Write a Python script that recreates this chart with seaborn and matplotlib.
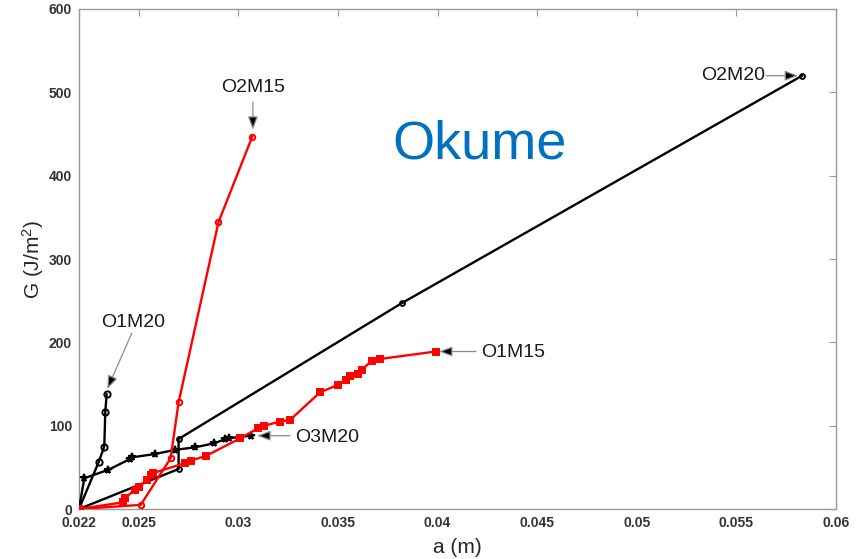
import numpy as np
import pandas as pd
import matplotlib
matplotlib.use('Agg')
import matplotlib.pyplot as plt
import seaborn as sns

# crack length a (m) vs strain energy release rate G (J/m^2) -- Okume specimens
o1m20_a = [0.0220, 0.0230, 0.02327, 0.02332, 0.02339]
o1m20_g = [0, 57, 75, 116, 138]

o2m20_a = [0.0220, 0.0270, 0.0270, 0.0382, 0.0583]
o2m20_g = [0, 48, 84, 247, 520]

o3m20_a = [0.0220, 0.02227, 0.02347, 0.02456, 0.02465, 0.02582, 0.02682,
           0.02782, 0.0288, 0.02935, 0.02953, 0.03063]
o3m20_g = [0, 37, 47, 60, 62, 66, 71, 74, 79, 84, 85, 88]

o1m15_a = [0.0220, 0.0242, 0.0243, 0.0248, 0.0250, 0.0254, 0.0256, 0.0257,
           0.0273, 0.0276, 0.0284, 0.0301, 0.0310, 0.0313, 0.0321, 0.0326,
           0.0341, 0.0350, 0.0354, 0.0356, 0.0360, 0.0362, 0.0367, 0.0371, 0.0399]
o1m15_g = [0, 8, 13, 23, 26, 35, 41, 43, 55, 58, 64, 85, 97, 100, 105, 107,
           140, 149, 155, 160, 162, 167, 178, 180, 189]

o2m15_a = [0.0220, 0.0251, 0.0266, 0.0270, 0.0290, 0.0307]
o2m15_g = [0, 5, 61, 128, 344, 447]

x_ticks = [0.022, 0.025, 0.03, 0.035, 0.04, 0.045, 0.05, 0.055, 0.06]
x_tick_labels = ['0.022', '0.025', '0.03', '0.035', '0.04', '0.045', '0.05', '0.055', '0.06']
y_ticks = [0, 100, 200, 300, 400, 500, 600]

sns.set_style('white')
plt.rcParams['font.family'] = ['Liberation Sans', 'DejaVu Sans']
plt.rcParams['mathtext.fontset'] = 'custom'
plt.rcParams['mathtext.rm'] = 'Liberation Sans'
plt.rcParams['mathtext.it'] = 'Liberation Sans'

fig = plt.figure(figsize=(8.65, 5.59), dpi=100)
ax = fig.add_axes([0.0913, 0.0894, 0.8752, 0.8945])

def draw(a, g, color, marker, ms, filled, z):
    df = pd.DataFrame({'a': a, 'G': g})
    sns.lineplot(data=df, x='a', y='G', sort=False, estimator=None, ax=ax,
                 color=color, lw=1.7, marker=marker, ms=ms,
                 markeredgecolor=color, markeredgewidth=1.4,
                 markerfacecolor=color if filled else 'none', zorder=z)

draw(o2m20_a, o2m20_g, 'black', 'o', 3.5, False, 3)
draw(o1m20_a, o1m20_g, 'black', 'o', 4.5, False, 3)
draw(o3m20_a, o3m20_g, 'black', '*', 5.5, True, 3)
draw(o1m15_a, o1m15_g, 'red', 's', 3.8, True, 4)
draw(o2m15_a, o2m15_g, 'red', 'o', 4, False, 4)

ax.set_xlim(0.022, 0.06)
ax.set_ylim(0, 600)
ax.set_xticks(x_ticks)
ax.set_xticklabels(x_tick_labels)
ax.set_yticks(y_ticks)
ax.tick_params(direction='in', length=5, width=0.8, color='#9a9a9a',
               top=True, right=True, labelsize=10, labelcolor='#333333', pad=5)
for lab in ax.get_xticklabels() + ax.get_yticklabels():
    lab.set_fontweight('bold')
for sp in ax.spines.values():
    sp.set_color('#9a9a9a')
    sp.set_linewidth(1.0)

ax.set_xlabel('a (m)', fontsize=15, color='#262626', labelpad=6)
ax.set_ylabel('G (J/m$^{2}$)', fontsize=15, color='#262626', labelpad=2)

# text arrows
arrows = [
    ('O2M15', (0.03073, 506), (0.03073, 488), (0.03073, 455)),
    ('O2M20', (0.05483, 520), (0.05649, 520), (0.0581, 520)),
    ('O1M20', (0.02471, 224), (0.02465, 211), (0.02342, 144)),
    ('O3M20', (0.03445, 86), (0.03259, 88), (0.03094, 88)),
    ('O1M15', (0.04379, 188), (0.04193, 189), (0.04007, 189)),
]
for name, txt, tail, head in arrows:
    ax.annotate('', xy=head, xytext=tail,
                arrowprops=dict(arrowstyle='-|>,head_length=0.8,head_width=0.3',
                                ec='#8c8c8c', fc='black', lw=0.9,
                                shrinkA=0, shrinkB=0))
    ax.text(txt[0], txt[1], name, fontsize=14, color='#1a1a1a',
            ha='center', va='center')

ax.text(0.04213, 437, 'Okume', fontsize=39, color='#0070c0',
        ha='center', va='center')

fig.savefig('out.png', dpi=100)
